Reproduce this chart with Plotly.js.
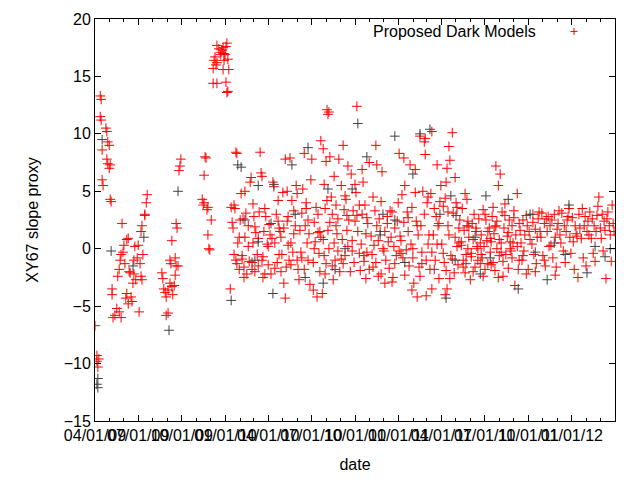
<!DOCTYPE html>
<html>
<head>
<meta charset="utf-8">
<script src="https://cdn.plot.ly/plotly-3.0.1.min.js"></script>
<style>html,body{margin:0;padding:0;background:#fff;}#chart{width:640px;height:480px;}</style>
</head>
<body>
<div id="chart"></div>
<script>
// ---- data ----
const startDate = '2009-04-01';
const seriesName = 'Proposed Dark Models';

// days after startDate, red series
const redDays = [
0,4,4,6,8,11,13,11,13,15,17,15,23,25,27,30,25,27,30,32,32,34,36,36,38,
42,46,48,51,53,55,57,59,61,63,55,51,65,67,67,70,72,74,76,78,80,82,82,84,86,89,91,93,95,97,99,101,105,108,110,70,97,99,105,
141,143,145,148,150,150,154,158,158,160,162,164,167,169,171,173,177,179,181,169,171,162,154,175,
226,228,230,230,232,234,236,238,238,240,242,245,249,253,255,257,257,257,268,270,272,272,270,276,278,278,280,282,249,264,266,274,251,261,276,280,
285,289,291,293,295,297,299,297,299,301,304,306,287,293,304,
308,310,312,314,316,318,320,323,325,316,327,310,323,314,
329,331,333,335,337,339,342,344,346,348,331,337,344,333,
350,352,354,356,358,360,363,365,367,369,352,358,365,354,
375,377,379,382,384,386,388,390,371,373,379,386,388,
398,401,401,392,394,396,398,403,405,407,409,411,405,392,407,
413,415,417,419,422,424,426,428,430,432,419,426,413,
438,441,434,436,441,443,445,447,449,451,453,445,449,436,
457,455,460,462,460,464,466,468,470,472,474,462,470,474,
476,481,483,487,489,491,493,495,479,481,483,485,487,489,491,493,495,485,476,
504,498,500,502,504,506,508,510,512,514,516,508,512,500,
523,533,519,521,523,525,527,529,531,533,535,538,527,519,531,
540,542,544,546,548,550,552,554,557,559,548,542,552,557,
563,565,578,561,563,567,569,571,573,575,571,578,567,573,
592,594,582,584,586,588,590,592,594,597,599,601,586,597,
605,603,609,611,613,616,618,611,620,622,607,616,603,
641,626,628,624,630,632,635,637,639,643,632,626,641,
651,645,647,649,651,653,656,658,660,662,664,653,660,645,
675,666,668,668,670,672,675,677,679,681,683,685,679,670,685,
694,696,696,687,689,691,694,698,698,700,702,704,706,702,689,
710,721,708,710,710,713,715,717,719,721,723,725,727,715,725,
729,740,742,746,748,731,734,736,738,740,742,744,746,748,734,744,738,
753,759,750,755,757,759,761,763,765,767,769,763,753,767,
772,774,776,778,780,782,784,786,788,791,784,776,780,788,772,782,786,
793,795,797,799,801,803,805,807,809,812,797,803,807,793,812,
814,816,818,820,822,824,826,828,831,833,818,822,828,814,833,
845,850,854,835,837,839,841,843,845,847,850,852,839,843,852,835,847,
856,858,860,862,864,866,869,871,873,875,860,864,871,856,875,
877,879,881,883,885,887,890,892,894,896,883,890,879,894,
898,900,902,904,906,909,911,913,915,917,902,909,
921,923,925,928,930,932,934,936,938,928,923,
940,942,944,947,949,951,953,955,957,959,947,
961,963,965,968,970,972,974,976,978,980,970,
982,984,987,989,991,993,995,997,999,1001,
1003,1006,1008,1010,1012,1014,1018,1020,1022,1016,
1025,1027,1029,1031,1033,1035,1037,1039,1041,1043,
1046,1048,1050,1052,1054,1056,1058,1060,1062,1065,
1067,1069,1071,1073,1075,1077,1079,1081,1084,1086,1088,1090,1092,1094
];
const redVals = [
-6.7,-9.3,-9.8,-10.3,-9.6,13.3,13.0,11.5,11.2,6.0,5.5,8.6,10.5,10.2,9.3,9.0,7.8,7.4,7.0,7.3,4.3,4.1,-3.5,-4.0,-6.0,
-5.8,-5.2,-2.4,-1.8,-1.0,-0.5,2.2,-0.3,0.3,-1.3,-6.0,-5.5,-4.3,-3.9,0.8,0.9,-2.0,-2.1,-4.2,-4.6,-3.0,-2.2,-1.0,0.2,-2.7,-0.8,0.3,-5.5,-1.3,1.5,2.0,-0.5,3.0,4.0,4.7,-4.8,-2.4,-2.7,2.9,
-2.1,-2.6,-3.5,-3.8,-4.2,-5.8,-5.6,-3.0,-1.0,-1.3,0.7,-4.0,-3.2,-2.3,2.2,1.8,6.8,7.2,7.8,-0.8,-1.5,-3.3,-3.6,-1.5,
4.3,3.8,4.0,6.4,8.0,7.9,3.4,3.6,1.2,0.0,-0.1,2.5,14.4,16.7,16.0,16.2,14.4,17.7,17.3,17.5,17.0,16.4,15.6,14.5,17.9,13.6,13.7,15.6,15.7,16.9,17.1,16.9,16.4,17.4,17.6,16.5,
-3.5,2.3,1.8,3.8,3.5,8.4,8.3,-1.0,-1.3,0.5,1.0,2.5,3.6,-0.5,-1.8,
4.8,-0.6,2.6,-1.6,1.0,3.1,-2.2,0.2,-1.1,5.0,5.8,-0.9,2.0,-2.5,
6.2,-1.2,0.5,2.8,-2.0,1.4,-0.5,-1.5,3.2,8.4,-1.8,1.9,0.9,3.9,
6.6,6.3,-0.7,1.5,-2.2,2.8,0.4,-1.4,2.1,1.2,-1.0,3.5,0.2,-2.5,
5.8,5.4,0.5,3.0,-1.2,4.2,-0.5,1.5,-2.2,0.9,-1.7,2.4,1.8,
-3.0,-4.3,7.8,1.0,-0.5,4.9,1.8,-1.6,2.4,0.3,-1.0,7.9,5.0,-2.0,2.8,
0.5,4.2,-0.3,1.3,2.0,5.5,4.8,-1.8,-2.7,1.6,3.3,-1.0,-1.4,
5.2,8.3,-0.3,3.1,-1.8,2.0,4.0,0.5,-1.0,1.3,-3.1,3.5,2.5,-0.8,
7.8,6.0,-1.2,2.3,-3.6,0.6,3.6,-4.2,1.4,-0.4,-2.0,0.0,3.0,1.5,
9.4,8.7,5.6,7.6,12.1,11.7,11.9,8.0,-3.9,0.8,-0.6,3.5,-1.3,4.2,1.6,0.0,2.3,-2.2,1.0,
6.3,4.5,3.0,-2.7,0.5,-1.0,2.0,1.3,-0.2,7.8,-2.0,3.8,2.6,-1.5,
9.0,7.2,5.5,0.8,-1.3,3.4,-0.6,4.3,1.6,0.2,2.5,-2.0,4.6,-0.9,2.9,
6.5,0.7,3.3,-1.2,2.4,4.9,12.4,1.5,-0.4,-1.9,5.6,-0.2,2.9,3.8,
6.9,5.8,7.5,0.4,3.0,-1.1,3.8,1.3,-0.3,2.2,-2.6,-1.8,-0.6,2.7,
9.0,7.3,1.1,-0.5,4.5,0.3,3.3,-1.2,2.0,-2.4,2.6,1.5,-1.6,0.7,
6.7,4.1,-0.2,1.5,-1.0,2.2,0.6,-3.0,-1.7,3.3,0.0,2.8,-2.2,
8.3,-2.9,-2.5,1.0,0.2,1.8,-0.6,2.4,4.0,1.1,-1.3,3.2,-0.2,
7.9,0.7,4.7,-0.8,2.3,5.5,-0.1,3.2,1.5,-1.5,7.3,-2.3,2.7,-0.4,
6.9,0.4,3.6,-3.6,-0.8,-3.0,4.9,2.4,-4.2,1.2,-1.6,9.8,2.0,0.0,-2.4,
9.3,9.6,8.2,2.0,-0.3,5.0,3.0,-4.1,-1.0,4.0,0.4,1.2,-1.8,4.5,-1.3,
10.2,7.3,4.8,-0.3,-3.5,1.2,3.5,-1.0,2.8,0.4,2.0,-2.6,4.1,-1.8,2.2,
5.5,5.8,7.0,8.9,7.7,0.4,3.7,-1.2,4.4,-1.9,-3.5,2.0,1.2,-2.6,-0.4,3.2,-4.0,
10.1,6.2,-0.6,3.1,-2.1,1.0,4.0,0.2,-1.4,1.8,2.5,3.6,-0.9,0.5,
0.6,3.5,-1.0,1.6,4.8,-0.5,2.0,0.0,1.0,-2.7,4.3,-1.6,-2.1,1.9,0.3,-1.3,2.4,
-0.4,2.2,0.8,3.0,-1.6,1.5,0.2,-1.0,2.6,0.5,-2.0,1.8,0.0,-0.7,-1.3,
1.2,-0.8,3.4,0.2,-1.8,2.5,0.7,-1.3,1.8,-0.3,-2.4,3.0,1.5,-0.5,0.9,
7.2,5.5,6.5,0.6,2.8,-1.2,1.3,-1.9,2.0,0.0,-2.5,-0.6,3.6,1.9,0.8,-1.4,2.4,
0.5,3.2,-1.1,1.8,3.9,-0.5,1.1,-1.7,2.5,0.0,-2.4,2.9,1.4,-0.3,0.6,
-0.2,2.0,0.5,2.7,-3.2,1.2,4.8,-1.8,-1.0,1.6,3.3,0.2,-0.8,2.2,
0.5,-1.0,2.5,-0.2,1.2,-2.2,2.0,-1.8,1.5,0.8,-0.6,2.9,
0.4,2.3,-0.5,1.7,-1.3,1.0,2.6,3.2,1.5,-2.0,3.0,
1.0,3.1,-0.6,2.2,-1.5,2.6,1.5,2.8,0.2,2.0,-1.0,
0.3,2.5,-0.8,3.0,1.0,-1.6,1.7,2.2,3.3,1.2,-2.3,
0.5,3.1,-0.2,2.0,-1.2,1.5,2.5,2.8,3.5,1.0,
-0.4,2.7,0.6,-1.8,2.0,1.3,-2.5,3.0,1.8,1.1,
0.9,3.5,-0.8,2.0,2.8,-1.5,1.5,2.4,1.2,3.2,
0.9,2.6,-0.4,2.0,-1.1,1.5,2.9,3.7,4.5,1.8,
0.9,3.0,-0.2,2.4,1.6,-2.6,2.6,3.2,2.0,1.2,-1.1,3.8,2.2,1.5
];

// days after startDate, dark grey points (no key entry)
const greyDays = [6,4,6,15,34,103,80,156,175,287,301,308,344,344,371,375,377,415,443,449,491,554,542,573,607,632,670,685,706,740,761,750,824,812,871,892,917,953,968,999,1037,1054,1086,1075,481,506,632,759,801,928,991,833,727,653,601,527,422,337,316];
const greyVals = [-11.3,-11.8,-12.1,9.5,-0.2,1.0,-1.5,-7.1,5.0,-4.5,7.3,7.1,5.5,0.6,2.2,-3.9,5.6,7.3,-2.5,8.8,5.2,10.9,5.2,8.0,3.0,9.8,6.5,10.0,10.4,-4.3,2.9,4.6,4.6,-2.2,4.3,-3.5,3.0,-2.7,0.5,3.8,-2.1,0.2,0.0,-0.7,-3.0,-1.8,2.5,-1.0,1.0,-0.3,-0.5,-0.8,3.0,-1.2,1.2,0.0,3.0,-1.0,2.5];

const tickDates = ['2009-04-01','2009-07-01','2009-10-01','2010-01-01','2010-04-01','2010-07-01','2010-10-01','2011-01-01','2011-04-01','2011-07-01','2011-10-01','2012-01-01','2012-04-01'];
const tickLabels = ['04/01/09','07/01/09','10/01/09','01/01/10','04/01/10','07/01/10','10/01/10','01/01/11','04/01/11','07/01/11','10/01/11','01/01/12','04/01/12'];
const yTicks = [-15,-10,-5,0,5,10,15,20];

// ---- build ----
const t0 = Date.UTC(2009, 3, 1);
function toDate(d) { return new Date(t0 + d * 86400000).toISOString().slice(0, 10); }

const FONT = '"Liberation Sans", Arial, sans-serif';

const red = {
  x: redDays.map(toDate), y: redVals, type: 'scatter', mode: 'markers',
  name: seriesName, showlegend: false,
  marker: { symbol: 'cross-thin', size: 7, color: '#ff0000', line: { width: 1, color: '#ff0000' } },
  hoverinfo: 'x+y'
};
const grey = {
  x: greyDays.map(toDate), y: greyVals, type: 'scatter', mode: 'markers',
  name: 'other', showlegend: false,
  marker: { symbol: 'cross-thin', size: 7, color: '#404040', line: { width: 1, color: '#404040' } },
  hoverinfo: 'x+y'
};

// key: text right-justified, sample "+" to its right (gnuplot style)
const kx = (574 - 95) / 520, ky = (420.6 - 31) / 402;
const hx = 3.5 / 520, hy = 3.5 / 402;

const layout = {
  width: 640, height: 480,
  margin: { l: 95, r: 25, t: 19, b: 59, pad: 0 },
  paper_bgcolor: '#ffffff', plot_bgcolor: '#ffffff',
  font: { family: FONT, size: 16, color: '#000000' },
  showlegend: false,
  xaxis: {
    type: 'date', range: [tickDates[0], tickDates[tickDates.length - 1]],
    tickmode: 'array', tickvals: tickDates, ticktext: tickLabels, tickangle: 0,
    ticks: 'inside', ticklen: 6, tickwidth: 1, tickcolor: '#000',
    minor: { dtick: 'M1', tick0: tickDates[0], ticks: 'inside', ticklen: 3, tickwidth: 1, tickcolor: '#000', showgrid: false },
    showline: true, linecolor: '#000', linewidth: 1, mirror: 'allticks',
    showgrid: false, zeroline: false,
    tickfont: { family: FONT, size: 16, color: '#000' },
    title: { text: 'date', font: { family: FONT, size: 16, color: '#000' }, standoff: 15 },
    automargin: false, fixedrange: true
  },
  yaxis: {
    range: [-15, 20], tickmode: 'array', tickvals: yTicks,
    ticks: 'inside', ticklen: 6, tickwidth: 1, tickcolor: '#000',
    showline: true, linecolor: '#000', linewidth: 1, mirror: 'allticks',
    showgrid: false, zeroline: false,
    tickfont: { family: FONT, size: 16, color: '#000' },
    title: { text: 'XY67 slope proxy', font: { family: FONT, size: 16, color: '#000' }, standoff: 21 },
    automargin: false, fixedrange: true
  },
  annotations: [{
    xref: 'paper', yref: 'paper', x: (538 - 95) / 520, y: ky, xanchor: 'right', yanchor: 'middle',
    text: seriesName, showarrow: false, font: { family: FONT, size: 16, color: '#000' }
  }],
  shapes: [
    { type: 'line', xref: 'paper', yref: 'paper', x0: kx - hx, x1: kx + hx, y0: ky, y1: ky, line: { color: '#ff0000', width: 1 } },
    { type: 'line', xref: 'paper', yref: 'paper', x0: kx, x1: kx, y0: ky - hy, y1: ky + hy, line: { color: '#ff0000', width: 1 } }
  ]
};

Plotly.newPlot('chart', [red, grey], layout, { staticPlot: true, displayModeBar: false });
</script>
</body>
</html>
